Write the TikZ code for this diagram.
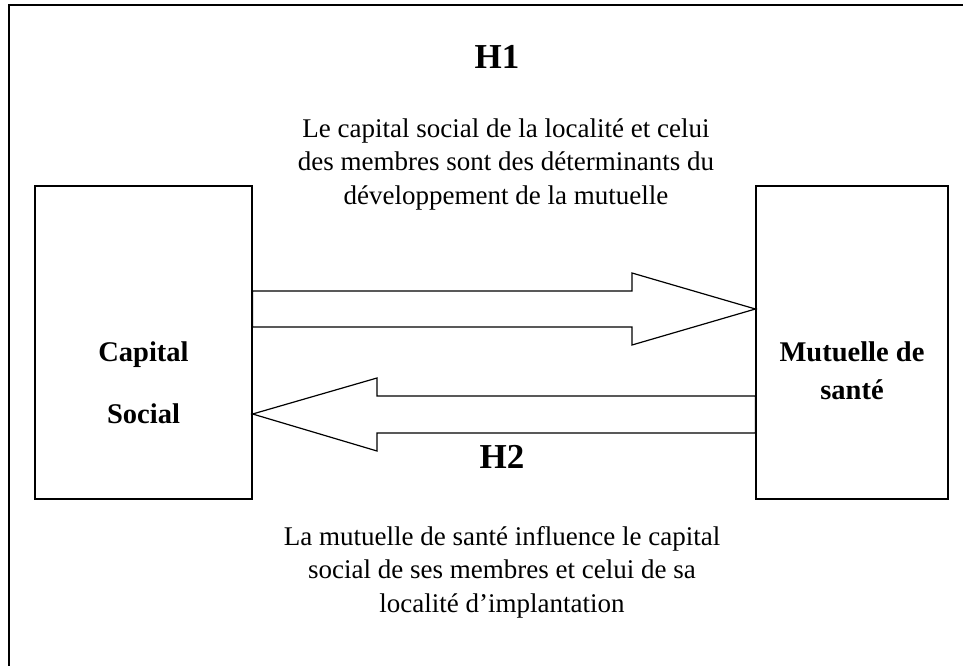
\documentclass[tikz,border=0pt]{standalone}
\usepackage{fontspec}
\setmainfont{Liberation Serif}
\begin{document}
\begin{tikzpicture}[x=1pt,y=-1pt,
  frame/.style={line width=1.6pt},
  box/.style={draw, line width=1.2pt, inner sep=0pt},
  blockarrow/.style={draw, line width=1.2pt, line join=miter, miter limit=10},
  hyp/.style={anchor=base, inner sep=0pt, font=\bfseries\fontsize{35}{40}\selectfont},
  body/.style={anchor=base, inner sep=0pt, font=\fontsize{27}{33}\selectfont},
  label/.style={anchor=base, inner sep=0pt, font=\bfseries\fontsize{28.5}{34}\selectfont}]
\useasboundingbox (0,0) rectangle (963,666);
% outer frame (cropped)
\coordinate (fl) at (9,666);
\coordinate (fc) at (9,5);
\coordinate (fr) at (963,5);
\draw[frame] (fl) -- (fc) -- (fr);
% boxes
\node[box, minimum width=217pt, minimum height=313pt] (cs) at (143.5,342.5) {};
\node[box, minimum width=192pt, minimum height=313pt] (ms) at (852,342.5) {};
\node[label] (cs1) at (143.5,361) {Capital};
\node[label] (cs2) at (143.5,423) {Social};
\node[label] (ms1) at (852,361) {Mutuelle de};
\node[label] (ms2) at (852,399) {santé};
% H1 text
\node[hyp] (h1) at (497,69) {H1};
\node[body] (t1a) at (506,137) {Le capital social de la localité et celui};
\node[body] (t1b) at (506,170.5) {des membres sont des déterminants du};
\node[body] (t1c) at (506,204) {développement de la mutuelle};
% H2 text
\node[hyp] (h2) at (502,468) {H2};
\node[body] (t2a) at (502,545) {La mutuelle de santé influence le capital};
\node[body] (t2b) at (502,578.5) {social de ses membres et celui de sa};
\node[body] (t2c) at (502,612) {localité d’implantation};
% block arrows
\draw[blockarrow] (cs.east |- 0,291) -- (632,291) -- (632,273) -- (ms.west |- 0,309)
  -- (632,345) -- (632,327) -- (cs.east |- 0,327) -- cycle;
\draw[blockarrow] (ms.west |- 0,396) -- (377,396) -- (377,378) -- (cs.east |- 0,414)
  -- (377,451) -- (377,433) -- (ms.west |- 0,433) -- cycle;
\end{tikzpicture}
\end{document}
